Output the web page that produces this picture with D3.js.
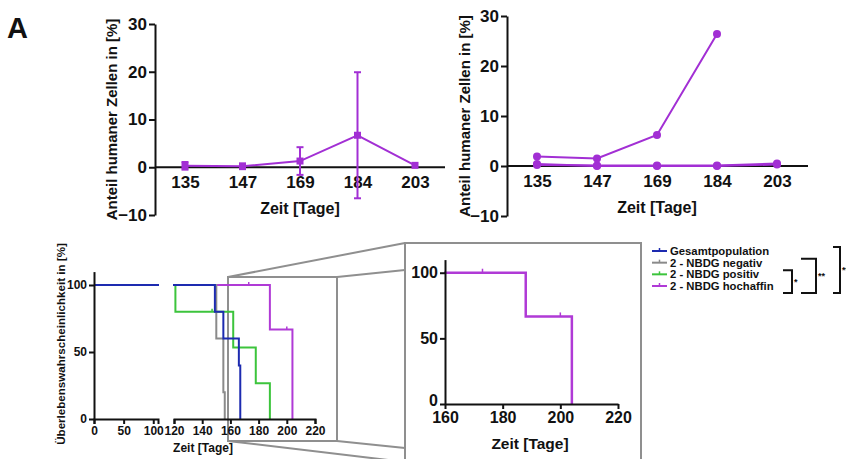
<!DOCTYPE html>
<html>
<head>
<meta charset="utf-8">
<script src="https://cdn.jsdelivr.net/npm/d3@7"></script>
<style>
body{margin:0;background:#fff}
text{font-family:Arial,"Liberation Sans",sans-serif;font-weight:bold;fill:#111}
</style>
</head>
<body>
<div id="fig"></div>
<script>
// top panels: days and % human cells
var days = ["135","147","169","184","203"];
var leftMean = [0.3, 0.2, 1.3, 6.7, 0.4];
var leftErr  = [0.8, 0.6, 2.9, 13.2, 0];
var rightHigh = [1.9, 1.5, 6.2, 26.4];          // stops at day 184
var rightLow  = [0.2, 0.1, 0.1, 0.1, 0.5];
var rightLow2 = [0.4, 0.0, 0.0, 0.0, 0.3];
var topTicks = [-10, 0, 10, 20, 30];

// survival (Kaplan-Meier steps)
var survGroups = ["Gesamtpopulation","2 - NBDG negativ","2 - NBDG positiv","2 - NBDG hochaffin"];
var survTimes  = [[0,149,155,166,167],[0,150,155,156],[0,121,162,178,188],[0,188,204]];
var survValues = [[100,80,60,40,0],[100,60,20,0],[100,80,53.3,26.7,0],[100,66.7,0]];
var censorTimes  = [[],[],[147],[173,200]];
var censorValues = [[],[],[80],[100,66.7]];
var survTicksY  = [0,50,100];
var survTicksX1 = [0,50,100];
var survTicksX2 = [120,140,160,180,200,220];
var zoomTicksX  = [160,180,200,220];
var brackets = [[2,3,"*"],[1,3,"**"],[0,3,"**"]];

var survColors = ["#1d2bb0","#8a8a8a","#3cc43c","#b03ad6"];
var purple = "#a22fd4";
var grayBox = "#8f8f8f";

var width = 846, height = 459;
var svg = d3.select("#fig").append("svg").attr("width",width).attr("height",height);
svg.append("rect").attr("width",width).attr("height",height).attr("fill","#fff");

svg.append("text").attr("x",7).attr("y",38).style("font-size","29px").text("A");

function styleAxis(g, fs){
  g.selectAll("path,line").attr("stroke","#111").attr("stroke-width",2);
  g.selectAll("text").style("font-size",fs+"px").attr("fill","#111");
}

// ---------- top panels ----------
function topPanel(ax, x0, x1, y30, y0, ym10, pts){
  var x = d3.scalePoint().domain(days).range(pts);
  var y = d3.scaleLinear().domain([-10,30]).range([ym10, y30]);
  var g = svg.append("g");
  var ya = g.append("g").attr("transform","translate("+x0+",0)")
    .call(d3.axisLeft(y).tickValues(topTicks).tickSizeInner(6).tickSizeOuter(0).tickPadding(2));
  styleAxis(ya, 17);
  g.append("line").attr("x1",x0).attr("x2",x1).attr("y1",y(0)).attr("y2",y(0))
    .attr("stroke","#111").attr("stroke-width",2);
  var xa = g.append("g").attr("transform","translate(0,"+y(0)+")")
    .call(d3.axisBottom(x).tickSize(0).tickPadding(9));
  xa.select(".domain").remove();
  styleAxis(xa, 17);
  g.append("text").attr("x",(pts[0]+pts[1])/2).attr("y",y(0)+47)
    .attr("text-anchor","middle").style("font-size","16px").text("Zeit [Tage]");
  g.append("text").attr("transform","translate("+ax+","+((y30+ym10)/2)+") rotate(-90)")
    .attr("text-anchor","middle").style("font-size","15px").text("Anteil humaner Zellen in [%]");
  return {g:g,x:x,y:y};
}

var TL = topPanel(117, 155, 445, 24, 167, 215, [185,415]);
var lineTL = d3.line().x(function(d,i){return TL.x(days[i]);}).y(function(d){return TL.y(d);});
TL.g.append("path").datum(leftMean).attr("d",lineTL).attr("fill","none")
  .attr("stroke",purple).attr("stroke-width",2);
leftMean.forEach(function(m,i){
  var cx = TL.x(days[i]);
  if(leftErr[i] > 0){
    var lo = TL.y(m-leftErr[i]), hi = TL.y(m+leftErr[i]);
    TL.g.append("line").attr("x1",cx).attr("x2",cx).attr("y1",lo).attr("y2",hi)
      .attr("stroke",purple).attr("stroke-width",2);
    [lo,hi].forEach(function(v){
      TL.g.append("line").attr("x1",cx-3.5).attr("x2",cx+3.5).attr("y1",v).attr("y2",v)
        .attr("stroke",purple).attr("stroke-width",2);
    });
  }
  TL.g.append("rect").attr("x",cx-3.5).attr("y",TL.y(m)-3.5).attr("width",7).attr("height",7)
    .attr("fill",purple);
});

var TR = topPanel(470, 507, 808, 16, 166, 216, [537,777]);
[rightLow2, rightLow, rightHigh].forEach(function(s){
  var ln = d3.line().x(function(d,i){return TR.x(days[i]);}).y(function(d){return TR.y(d);});
  TR.g.append("path").datum(s).attr("d",ln).attr("fill","none")
    .attr("stroke",purple).attr("stroke-width",2);
  TR.g.selectAll(null).data(s).enter().append("circle")
    .attr("cx",function(d,i){return TR.x(days[i]);}).attr("cy",function(d){return TR.y(d);})
    .attr("r",4).attr("fill",purple);
});

// ---------- zoom frame (drawn behind curves) ----------
var frame = svg.append("g").attr("fill","none").attr("stroke",grayBox).attr("stroke-width",2);
frame.append("line").attr("x1",228).attr("y1",277).attr("x2",405).attr("y2",243);
frame.append("line").attr("x1",337).attr("y1",277).attr("x2",405).attr("y2",270);
frame.append("line").attr("x1",228).attr("y1",441).attr("x2",405).attr("y2",462);
frame.append("line").attr("x1",337).attr("y1",441).attr("x2",405).attr("y2",448);
frame.append("rect").attr("x",228).attr("y",277).attr("width",109).attr("height",164);
frame.append("rect").attr("x",405).attr("y",243).attr("width",236).attr("height",240).attr("fill","#fff");

// ---------- survival panel ----------
var sy = d3.scaleLinear().domain([0,110]).range([419, 271.6]);
var sx1 = d3.scaleLinear().domain([0,108]).range([94,158]);
var sx2 = d3.scaleLinear().domain([120,220]).range([174,315]);
var S = svg.append("g");
var defs = svg.append("defs");
defs.append("clipPath").attr("id","seg1").append("rect").attr("x",93).attr("y",250).attr("width",66).attr("height",180);
defs.append("clipPath").attr("id","seg2").append("rect").attr("x",173).attr("y",250).attr("width",150).attr("height",180);
defs.append("clipPath").attr("id","segz").append("rect").attr("x",444).attr("y",240).attr("width",180).attr("height",180);

function drawCurves(g, x, clip, which){
  var step = d3.line().curve(d3.curveStepAfter).x(function(d){return x(d[0]);}).y(function(d){return sy(d[1]);});
  var cg = g.append("g").attr("clip-path","url(#"+clip+")");
  which.forEach(function(k){
    var pts = survTimes[k].map(function(t,i){return [t, survValues[k][i]];});
    cg.append("path").datum(pts).attr("d",step).attr("fill","none")
      .attr("stroke",survColors[k]).attr("stroke-width",2);
    censorTimes[k].forEach(function(t,i){
      cg.append("line").attr("x1",x(t)).attr("x2",x(t))
        .attr("y1",sy(censorValues[k][i])-3).attr("y2",sy(censorValues[k][i]))
        .attr("stroke",survColors[k]).attr("stroke-width",1.5);
    });
  });
}
drawCurves(S, sx1, "seg1", [3,2,1,0]);
drawCurves(S, sx2, "seg2", [3,2,1,0]);

var sya = S.append("g").attr("transform","translate(94,0)")
  .call(d3.axisLeft(sy).tickValues(survTicksY).tickSizeInner(5).tickSizeOuter(0).tickPadding(2));
styleAxis(sya, 12);
var sxa1 = S.append("g").attr("transform","translate(0,419)")
  .call(d3.axisBottom(sx1).tickValues(survTicksX1).tickSizeInner(5).tickSizeOuter(5).tickPadding(2));
styleAxis(sxa1, 12);
var sxa2 = S.append("g").attr("transform","translate(0,419)")
  .call(d3.axisBottom(sx2).tickValues(survTicksX2).tickSizeInner(5).tickSizeOuter(5).tickPadding(2));
styleAxis(sxa2, 12);
S.append("text").attr("x",203).attr("y",452).attr("text-anchor","middle").style("font-size","12px").text("Zeit [Tage]");
S.append("text").attr("transform","translate(65,344) rotate(-90)").attr("text-anchor","middle")
  .style("font-size","11.6px").text("Überlebenswahrscheinlichkeit in [%]");

// ---------- zoomed survival panel ----------
var zx = d3.scaleLinear().domain([160,220]).range([445,618]);
var zy = d3.scaleLinear().domain([0,110]).range([404,259.6]);
var Z = svg.append("g");
(function(){
  var step = d3.line().curve(d3.curveStepAfter).x(function(d){return zx(d[0]);}).y(function(d){return zy(d[1]);});
  var k = 3;
  var pts = survTimes[k].map(function(t,i){return [t, survValues[k][i]];});
  var cg = Z.append("g").attr("clip-path","url(#segz)");
  cg.append("path").datum(pts).attr("d",step).attr("fill","none")
    .attr("stroke",survColors[k]).attr("stroke-width",2.5);
  censorTimes[k].forEach(function(t,i){
    cg.append("line").attr("x1",zx(t)).attr("x2",zx(t))
      .attr("y1",zy(censorValues[k][i])-4).attr("y2",zy(censorValues[k][i]))
      .attr("stroke",survColors[k]).attr("stroke-width",1.5);
  });
})();
var zya = Z.append("g").attr("transform","translate(445,0)")
  .call(d3.axisLeft(zy).tickValues(survTicksY).tickSizeInner(5).tickSizeOuter(0).tickPadding(2));
styleAxis(zya, 16);
// lift the "0" a little so it sits above the 160 label
zya.selectAll(".tick text").filter(function(d){return d === 0;}).attr("dy","0.1em");
var zxa = Z.append("g").attr("transform","translate(0,404)")
  .call(d3.axisBottom(zx).tickValues(zoomTicksX).tickSizeInner(5).tickSizeOuter(0).tickPadding(3));
styleAxis(zxa, 16);
Z.append("text").attr("x",530).attr("y",449).attr("text-anchor","middle").style("font-size","15.5px").text("Zeit [Tage]");

// ---------- legend ----------
var legY = d3.scalePoint().domain(survGroups).range([251,286]);
var L = svg.append("g");
survGroups.forEach(function(name,k){
  var yy = legY(name);
  L.append("line").attr("x1",652).attr("x2",667).attr("y1",yy).attr("y2",yy)
    .attr("stroke",survColors[k]).attr("stroke-width",2);
  L.append("line").attr("x1",659.5).attr("x2",659.5).attr("y1",yy-3).attr("y2",yy)
    .attr("stroke",survColors[k]).attr("stroke-width",1.5);
  L.append("text").attr("x",670).attr("y",yy+4).style("font-size","11.3px").text(name);
});
var brX = [[783,792],[801,816],[833,840]];
brackets.forEach(function(b,i){
  var top = legY(survGroups[b[0]]) - 4, bot = legY(survGroups[b[1]]) + 7;
  var x0 = brX[i][0], x1 = brX[i][1];
  L.append("path").attr("d","M"+x0+","+top+"H"+x1+"V"+bot+"H"+x0)
    .attr("fill","none").attr("stroke","#111").attr("stroke-width",2);
  L.append("text").attr("x",x1+2).attr("y",(top+bot)/2+3).attr("fill","#111")
    .style("font-size","9px").text(b[2]);
});
</script>
</body>
</html>
